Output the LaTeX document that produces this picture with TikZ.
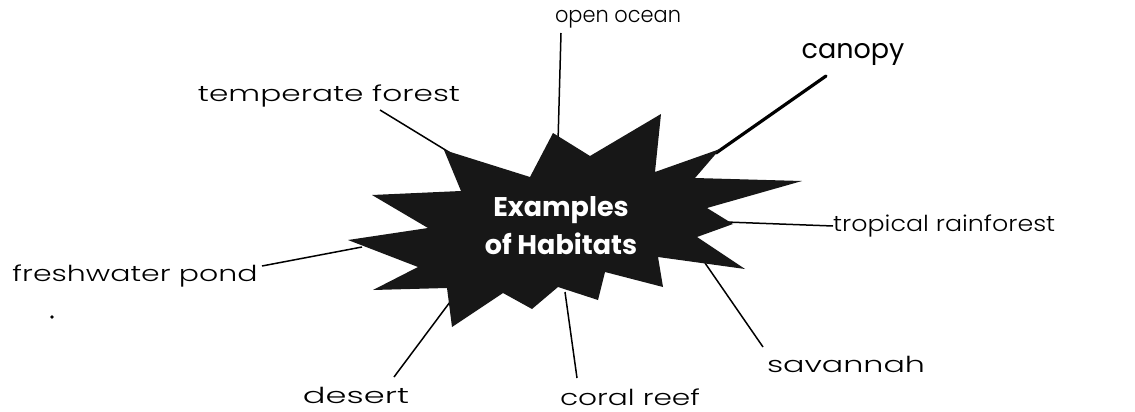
\documentclass[tikz,border=0pt]{standalone}
\usepackage{fontspec}
\setmainfont{Poppins}
\newfontfamily\hand{Poppins Light}
\newfontfamily\gothic{Poppins}
\newfontfamily\gothicbold{Poppins}[UprightFont=* Bold]
\newcommand\hw[2]{\resizebox{#1}{\height}{\hand #2}}
\begin{document}
\begin{tikzpicture}[x=1pt,y=-1pt,
  conn/.style={line width=1.5pt,black},
  thickconn/.style={line width=3.2pt,black,line cap=round},
  starfill/.style={fill=black!91},
  hwlabel/.style={inner sep=0pt,font=\fontsize{22}{24}\selectfont},
  title/.style={inner sep=0pt,text=white,align=center,font=\fontsize{27}{38}\gothicbold}]
\useasboundingbox (0,0) rectangle (1135,412);
% label nodes
\node[hwlabel] (ocean) at (618,19) {\hw{126pt}{open ocean}};
\node[inner sep=0pt,font=\fontsize{27}{30}\gothic] (canopy) at (853,54) {canopy};
\node[hwlabel] (temperate) at (329,96) {\hw{262pt}{temperate forest}};
\node[hwlabel,anchor=west] (tropical) at (833,226) {\hw{222pt}{tropical rainforest}};
\node[hwlabel] (pond) at (135,276) {\hw{245pt}{freshwater pond}};
\node[hwlabel] (desert) at (356,395) {\hw{106pt}{desert}};
\node[hwlabel] (coral) at (630,397) {\hw{140pt}{coral reef}};
\node[hwlabel] (savannah) at (846,364) {\hw{158pt}{savannah}};
% connector end points
\coordinate (cT) at (452,154);
\coordinate (cO) at (558,142);
\coordinate (cC) at (716,153);
\coordinate (cR) at (726,222);
\coordinate (cP) at (362,247);
\coordinate (cD) at (450,302);
\coordinate (cF) at (565,292);
\coordinate (cS) at (705,263);
\coordinate (eT) at (380,110);
\coordinate (eO) at (561,33);
\coordinate (eC) at (826,76);
\coordinate (eP) at (262,266);
\coordinate (eD) at (394,377);
\coordinate (eF) at (577,378);
\coordinate (eS) at (763,347);
% connectors
\draw[conn] (eT) -- (cT);
\draw[conn] (eO) -- (cO);
\draw[thickconn] (eC) -- (cC);
\draw[conn] (tropical.west) -- (cR);
\draw[conn] (eP) -- (cP);
\draw[conn] (eD) -- (cD);
\draw[conn] (eF) -- (cF);
\draw[conn] (eS) -- (cS);
% starburst
\fill[starfill] (444,150) -- (530,177) -- (553,133) -- (590,156) -- (661,114)
  -- (655,172) -- (720,149) -- (695,178) -- (802,181) -- (707,208)
  -- (733,224) -- (697,237) -- (745,269) -- (658,257) -- (663,287)
  -- (605,272) -- (598,300) -- (558,287) -- (532,309) -- (503,293)
  -- (452,327) -- (447,288) -- (373,290) -- (418,267) -- (348,240)
  -- (428,228) -- (372,195) -- (461,191) -- cycle;
\node[title] (hab) at (561,226) {Examples\\of Habitats};
% stray dot
\fill (52,317) circle (1.8pt);
\end{tikzpicture}
\end{document}
